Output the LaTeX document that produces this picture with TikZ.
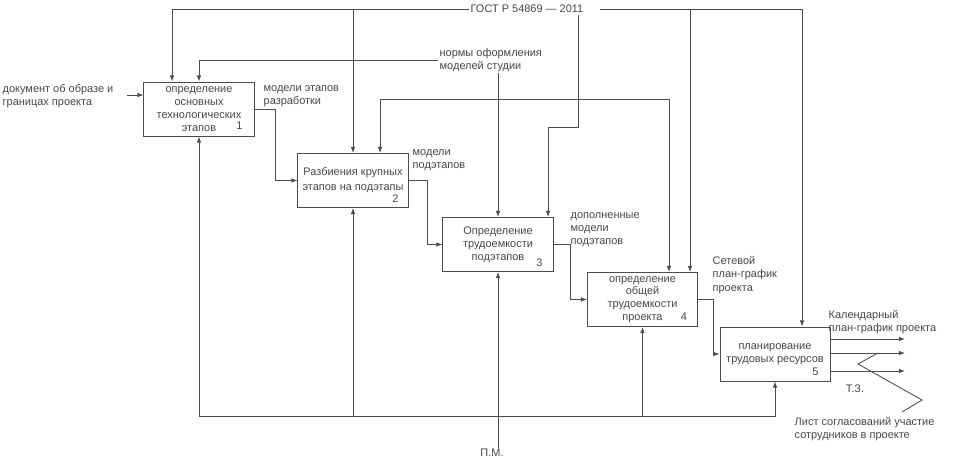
\documentclass[tikz,border=0pt]{standalone}
\usepackage{fontspec}
\setmainfont{Liberation Sans}
\usetikzlibrary{arrows.meta,calc}
\begin{document}
\begin{tikzpicture}[x=0.025cm,y=-0.025cm,
  font=\fontsize{7.8}{9.3}\selectfont, text=black!72,
  ln/.style={draw=black!70, line width=0.6pt},
  arr/.style={ln,-{Latex[length=4.3pt,width=3.2pt]}},
  proc/.style={draw=black!70, line width=0.7pt, minimum width=2.75cm, minimum height=1.35cm, align=center, inner sep=1pt},
  lbl/.style={align=left, inner sep=1pt},
  tag/.style={inner sep=1pt}]
\useasboundingbox (0,0) rectangle (974,462);

% processes
\node[proc] (b1) at (199,109) {определение\\основных\\технологических\\этапов};
\node[proc, font=\fontsize{7.8}{10.6}\selectfont] (b2) at (353,180.5) {Разбиения крупных\\этапов на подэтапы};
\node[proc] (b3) at (498,244.5) {Определение\\трудоемкости\\подэтапов};
\node[proc, font=\fontsize{7.8}{9}\selectfont] (b4) at (642.5,299.5) {определение\\общей\\трудоемкости\\проекта};
\node[proc] (b5) at (775,354) {планирование\\трудовых ресурсов};

\node[tag] (n1) at ($(b1.south east)+(-15,-11)$) {1};
\node[tag] (n2) at ($(b2.south east)+(-13,-9)$) {2};
\node[tag] (n3) at ($(b3.south east)+(-14,-9)$) {3};
\node[tag] (n4) at ($(b4.south east)+(-14,-10)$) {4};
\node[tag] (n5) at ($(b5.south east)+(-15,-10)$) {5};

% labels
\node[lbl, anchor=west] (doc) at (1,96) {документ об образе и\\границах проекта};
\node[lbl, anchor=west] (l1) at (262,96) {модели этапов\\разработки};
\node[lbl, anchor=west] (norms) at (438,60) {нормы оформления\\моделей студии};
\node[tag] (gost) at (527,9) {ГОСТ Р 54869 — 2011};
\node[lbl, anchor=west] (l2) at (411,160) {модели\\подэтапов};
\node[lbl, anchor=west] (l3) at (569,230) {дополненные\\модели\\подэтапов};
\node[lbl, anchor=west] (l4) at (711,275) {Сетевой\\план-график\\проекта};
\node[lbl, anchor=west] (l5) at (827,322) {Календарный\\план-график проекта};
\node[tag] (tz) at (855,389) {Т.З.};
\node[lbl, anchor=west] (l6) at (793,429) {Лист согласований участие\\сотрудников в проекте};
\node[tag] (pm) at (492,453) {П.М.};

% coordinates
\coordinate (b1c1) at ($(b1.north)+(-27,0)$);
\coordinate (b2c2) at ($(b2.north)+(27,0)$);
\coordinate (b3c2) at ($(b3.north)+(50,0)$);
\coordinate (b4c1) at ($(b4.north)+(26.5,0)$);
\coordinate (b4c2) at ($(b4.north)+(47.5,0)$);
\coordinate (b5c) at ($(b5.north)+(27,0)$);
\coordinate (g1) at (578,127);
\coordinate (j99) at (498,99);
\coordinate (j416) at (498,416);
\coordinate (in1) at (127,95);
\coordinate (o1) at (905,339);
\coordinate (o2) at (905,353);
\coordinate (o3) at (905,371);
\coordinate (z0) at (878,353);

% controls
\draw[arr] (gost.west) -| (b1c1);
\draw[arr] (b2.north |- gost.west) -- (b2.north);
\draw[arr] ($(gost.east)+(15,0)$) -| (b5c);
\draw[arr] (b4c2 |- gost.east) -- (b4c2);
\draw[arr] (g1 |- gost.south) -- (g1) -| (b3c2);
\draw[arr] (norms.west) -| (b1.north);
\draw[arr] (norms.south -| b3.north) -- (b3.north);
\draw[arr] (j99) -| (b2c2);
\draw[arr] (j99) -| (b4c1);

% input
\draw[arr] (in1) -- (in1 -| b1.west);

% flow between processes
\draw[arr] (b1.east) -- ++(21,0) |- (b2.west);
\draw[arr] (b2.east) -- ++(19,0) |- (b3.west);
\draw[arr] (b3.east) -- ++(17,0) |- (b4.west);
\draw[arr] (b4.east) -- ++(15,0) |- (b5.west);

% outputs
\draw[arr] (o1 -| b5.east) -- (o1);
\draw[arr] (o2 -| b5.east) -- (o2);
\draw[arr] (o3 -| b5.east) -- (o3);
\draw[ln] (z0) -- (858,364) -- (922,400) -- (902,412);

% mechanisms
\draw[arr] (pm.north -| b3.south) -- (b3.south);
\draw[arr] (j416) -| (b1.south);
\draw[arr] (j416) -| (b2.south);
\draw[arr] (j416) -| (b4.south);
\draw[arr] (j416) -| (b5.south);
\end{tikzpicture}
\end{document}
